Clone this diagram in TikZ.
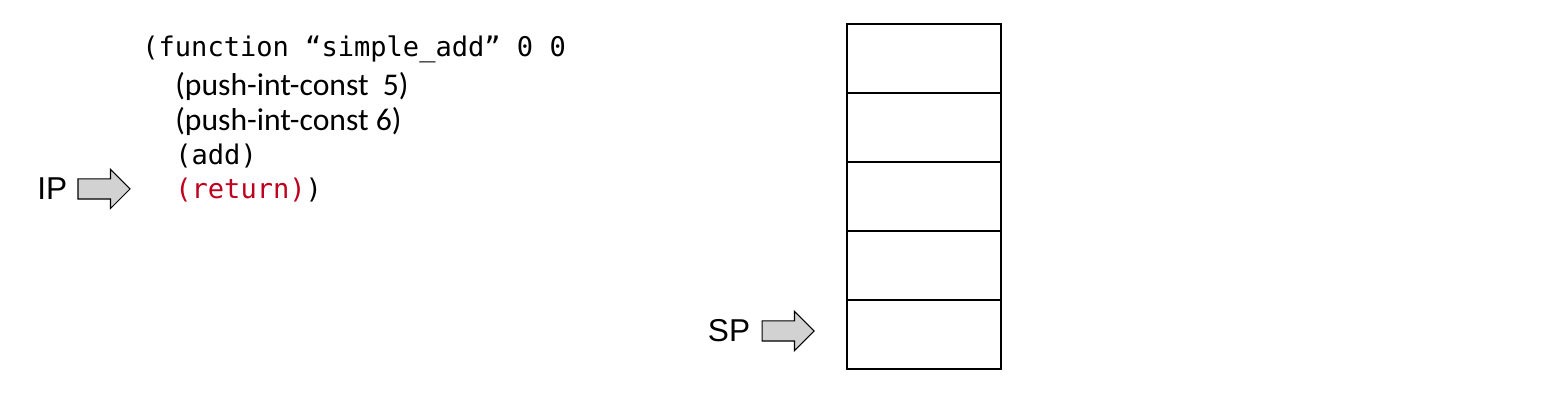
\documentclass[tikz,border=0pt]{standalone}
\usepackage{fontspec}
\setmainfont{Liberation Sans}
\newfontfamily\codefont{DejaVu Sans Mono}
\newfontfamily\opfont{Carlito}
\usetikzlibrary{positioning,shapes.arrows}
\definecolor{codered}{RGB}{190,0,30}
\definecolor{ptrgray}{RGB}{210,210,210}
\tikzset{
	cell/.style={draw, line width=0.9pt, minimum width=3.08cm, minimum height=1.38cm, inner sep=0pt},
	ptr/.style={single arrow, draw, fill=ptrgray, line width=0.6pt, inner sep=0pt, inner ysep=0.19cm,
		minimum height=1.04cm, single arrow head extend=0.19cm, single arrow tip angle=90},
	codeline/.style={anchor=base west, inner sep=0pt, font=\fontsize{15.4}{18}\codefont},
	opline/.style={anchor=base west, inner sep=0pt, font=\fontsize{18}{21}\opfont},
	regname/.style={font=\fontsize{18}{21}\selectfont, inner sep=0pt}
}
\begin{document}
\begin{tikzpicture}[x=0.02cm, y=-0.02cm]
		\useasboundingbox (0,0) rectangle (1548,404);
		
		% Code
		\node[codeline] (fn) at (142, 57) {(function “simple\_add” 0 0};
		\node[opline] (push1) at (175, 96) {(push-int-const~~5)};
		\node[opline] (push2) at (175, 131) {(push-int-const 6)};
		\node[codeline] (addop) at (175, 165) {(add)};
		\node[codeline] (ret) at (175, 199) {\textcolor{codered}{(return)})};
		
		% Stack
		\foreach \i in {1,...,5} {
			\node[cell] (cell\i) at (924, 24+69*\i-34.5) {};
		}
		
		% IP
		\node[ptr] (iparrow) at (99, 189) {};
		\node[regname, left=0.2cm of iparrow] (ip) {IP};
		
		% SP
		\node[ptr] (sparrow) at (783, 331) {};
		\node[regname, left=0.22cm of sparrow] (sp) {SP};
	\end{tikzpicture}
\end{document}
